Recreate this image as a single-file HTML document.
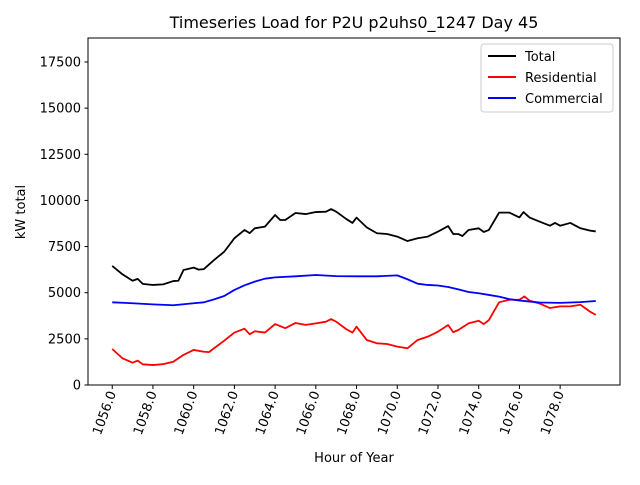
<!DOCTYPE html>
<html><head><meta charset="utf-8"><style>
body{margin:0;background:#fff}
svg text{font-family:"DejaVu Sans","Liberation Sans",sans-serif;fill:#000}
</style></head><body>
<svg width="640" height="480" viewBox="0 0 640 480">
<rect width="640" height="480" fill="#fff"/>
<text x="354" y="28" text-anchor="middle" font-size="16">Timeseries Load for P2U p2uhs0_1247  Day 45</text>
<g id="plot"></g>
<rect x="88" y="38" width="532" height="347" fill="none" stroke="#000" stroke-width="1"/>
<text x="354" y="462" text-anchor="middle" font-size="13">Hour of Year</text>
<text transform="translate(25,212) rotate(-90)" text-anchor="middle" font-size="13">kW total</text>
<g>
<rect x="481" y="44" width="132" height="68" rx="3" fill="#fff" stroke="#ccc"/>
<line x1="488" y1="56" x2="516" y2="56" stroke="#000" stroke-width="2"/><text x="525" y="61" font-size="13">Total</text>
<line x1="488" y1="77" x2="516" y2="77" stroke="red" stroke-width="2"/><text x="525" y="82" font-size="13">Residential</text>
<line x1="488" y1="98" x2="516" y2="98" stroke="blue" stroke-width="2"/><text x="525" y="103" font-size="13">Commercial</text>
</g>
</svg>
<script>
const yTicks=[0,2500,5000,7500,10000,12500,15000,17500];
const xTicks=[1056,1058,1060,1062,1064,1066,1068,1070,1072,1074,1076,1078];
const totalHours=[1056,1056.5,1057,1057.25,1057.5,1058,1058.5,1059,1059.25,1059.5,1060,1060.25,1060.5,1061,1061.5,1062,1062.5,1062.75,1063,1063.5,1064,1064.25,1064.5,1065,1065.5,1066,1066.5,1066.75,1067,1067.5,1067.8,1068,1068.5,1069,1069.5,1070,1070.5,1071,1071.5,1072,1072.5,1072.75,1073,1073.2,1073.5,1074,1074.25,1074.5,1075,1075.5,1076,1076.2,1076.5,1077,1077.5,1077.75,1078,1078.5,1079,1079.5,1079.75];
const totalValues=[6450,6000,5650,5750,5480,5420,5450,5630,5650,6230,6360,6250,6280,6770,7220,7950,8400,8230,8490,8580,9210,8940,8940,9320,9260,9370,9390,9530,9390,8990,8780,9070,8540,8220,8180,8040,7800,7950,8040,8310,8610,8180,8180,8070,8400,8490,8290,8400,9340,9340,9080,9370,9070,8850,8630,8780,8630,8780,8490,8360,8320];
const resHours=[1056,1056.5,1057,1057.25,1057.5,1058,1058.5,1059,1059.5,1060,1060.5,1060.75,1061,1061.5,1062,1062.5,1062.75,1063,1063.5,1064,1064.5,1065,1065.5,1066,1066.5,1066.75,1067,1067.5,1067.8,1068,1068.5,1069,1069.5,1070,1070.5,1071,1071.5,1072,1072.5,1072.75,1073,1073.5,1074,1074.25,1074.5,1075,1075.5,1076,1076.25,1076.5,1077,1077.5,1078,1078.5,1079,1079.5,1079.75];
const resValues=[1950,1450,1210,1320,1120,1080,1130,1260,1630,1900,1800,1780,1990,2400,2840,3050,2750,2910,2840,3300,3080,3360,3260,3340,3430,3570,3430,3020,2840,3160,2440,2260,2220,2080,1990,2440,2620,2890,3250,2860,2980,3340,3480,3300,3520,4480,4620,4620,4800,4570,4410,4170,4260,4260,4350,3950,3800];
const comHours=[1056,1057,1058,1059,1060,1060.5,1061,1061.5,1062,1062.5,1063,1063.5,1064,1065,1066,1067,1068,1069,1070,1070.5,1071,1071.5,1072,1072.5,1073,1073.5,1074,1074.5,1075,1075.5,1076,1076.5,1077,1078,1079,1079.75];
const comValues=[4480,4430,4370,4320,4430,4480,4640,4820,5150,5400,5600,5760,5830,5890,5960,5900,5890,5890,5940,5730,5490,5420,5390,5310,5180,5040,4970,4880,4790,4650,4580,4520,4470,4450,4490,4550];

const NS='http://www.w3.org/2000/svg';
const svg=document.querySelector('svg');
const plot=document.getElementById('plot');
const X0=88,X1=620,Y0=385,Y1=38,HMIN=1054.81,HMAX=1080.94,VMIN=0,VMAX=18800;
function xs(h){return X0+(h-HMIN)/(HMAX-HMIN)*(X1-X0);}
function ys(v){return Y0-(v-VMIN)/(VMAX-VMIN)*(Y0-Y1);}
function mk(t,a){const e=document.createElementNS(NS,t);for(const k in a)e.setAttribute(k,a[k]);return e;}
yTicks.forEach(v=>{
  const l=mk('line',{x1:84.5,x2:88,y1:ys(v),y2:ys(v),stroke:'#000'});
  
  
  svg.appendChild(l);
  const t=mk('text',{x:81,y:ys(v)+4.5,'text-anchor':'end','font-size':13});
  
  
  t.textContent=v;svg.appendChild(t);
});
xTicks.forEach(h=>{
  const x=xs(h);
  const l=mk('line',{x1:x,x2:x,y1:385,y2:389,stroke:'#000'});
  
  
  svg.appendChild(l);
  const t=mk('text',{transform:`translate(${x+4},393) rotate(-70)`,'text-anchor':'end','font-size':13});
  
  
  t.textContent=h.toFixed(1);svg.appendChild(t);
});
function line(hs,vs,color,name){
  const p=mk('polyline',{points:hs.map((h,i)=>xs(h).toFixed(2)+','+ys(vs[i]).toFixed(2)).join(' '),fill:'none',stroke:color,'stroke-width':1.8,'stroke-linejoin':'round'});
  
  
  plot.appendChild(p);
}
line(totalHours,totalValues,'#000','total-line');
line(resHours,resValues,'red','residential-line');
line(comHours,comValues,'blue','commercial-line');
</script>
</body></html>
